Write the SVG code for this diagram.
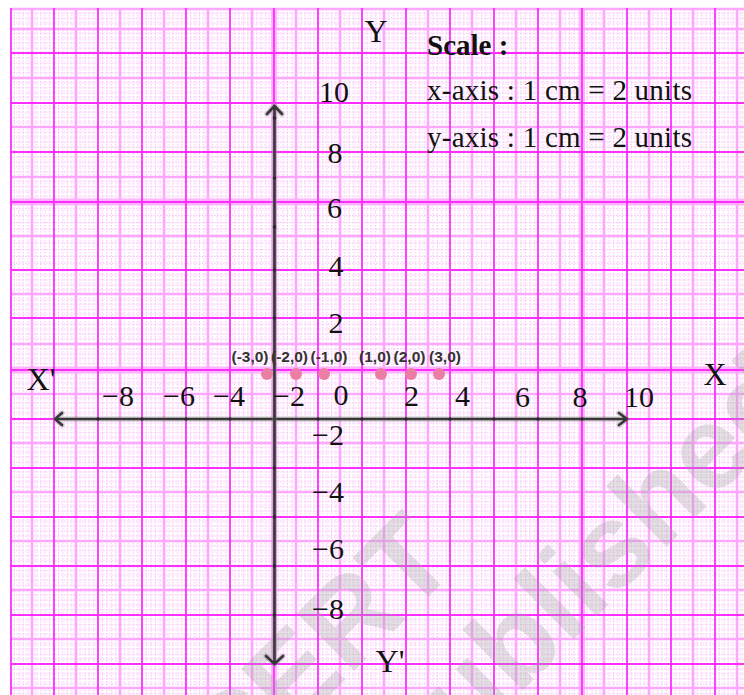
<svg xmlns="http://www.w3.org/2000/svg" width="744" height="695" viewBox="0 0 744 695">
<style>
.minor{stroke:#fbbdfb;stroke-width:1;fill:none;stroke-dasharray:1.6 1.4}
.medium{stroke:#ffa6ff;stroke-width:2.6;fill:none}
.major{stroke:#ff2eff;stroke-width:1.8;fill:none}
.band{stroke:#ffb6ff;fill:none}
.axis{stroke:#383838;stroke-width:2.6;fill:none;stroke-linecap:round;stroke-linejoin:round}
.axisglow{stroke:#8a8a8a;stroke-width:5.5;fill:none;opacity:0.35;stroke-linecap:round}
.tick{fill:#2a2a2a}
.num{font-family:"Liberation Serif","Times New Roman",serif;font-size:30px;fill:#111;text-anchor:middle}
.big{font-family:"Liberation Serif","Times New Roman",serif;font-size:32px;fill:#111;text-anchor:middle}
.scale{font-family:"Liberation Serif","Times New Roman",serif;font-size:29px;fill:#111}
.pt{font-family:"Liberation Sans",Arial,sans-serif;font-size:15.5px;font-weight:bold;fill:#333;text-anchor:middle}
.dot{fill:#ec7ea6}
.wm{font-family:"Liberation Sans",Arial,sans-serif;font-size:118px;font-weight:bold;fill:#a0a0a0;opacity:0.3;text-anchor:end}
</style>
<defs>
<pattern id="vm" patternUnits="userSpaceOnUse" x="10" y="0" width="44.06" height="21">
<path class="minor" d="M4.4 0V21M8.8 0V21M13.2 0V21M17.6 0V21M26.4 0V21M30.8 0V21M35.2 0V21M39.6 0V21"/>
</pattern>
<pattern id="hmA" patternUnits="userSpaceOnUse" x="10" y="3.5" width="21" height="49.5">
<path class="minor" d="M0 4.95H21M0 9.9H21M0 14.85H21M0 19.8H21M0 29.7H21M0 34.65H21M0 39.6H21M0 44.55H21"/>
</pattern>
<pattern id="hmB" patternUnits="userSpaceOnUse" x="10" y="202" width="21" height="68">
<path class="minor" d="M0 6.8H21M0 13.6H21M0 20.4H21M0 27.2H21M0 40.8H21M0 47.6H21M0 54.4H21M0 61.2H21"/>
</pattern>
<pattern id="hmC" patternUnits="userSpaceOnUse" x="10" y="270" width="21" height="49.25">
<path class="minor" d="M0 4.925H21M0 9.85H21M0 14.775H21M0 19.7H21M0 29.55H21M0 34.475H21M0 39.4H21M0 44.325H21"/>
</pattern>
</defs>
<rect x="0" y="0" width="744" height="695" fill="#ffffff"/>
<g id="grid">
<rect x="10" y="8" width="734" height="194" fill="url(#hmA)"/>
<rect x="10" y="202" width="734" height="68" fill="url(#hmB)"/>
<rect x="10" y="270" width="734" height="425" fill="url(#hmC)"/>
<rect x="10" y="8" width="734" height="687" fill="url(#vm)"/>
<path class="band" stroke-width="7" d="M10 370H744M10 202H744"/>
<path class="band" stroke-width="6" d="M582 8V695M274 8V695"/>
<path class="medium" d="M32 8V695M76 8V695M120 8V695M164 8V695M208 8V695M252 8V695M296 8V695M340 8V695M384 8V695M428 8V695M472 8V695M516 8V695M560 8V695M604 8V695M649 8V695M693 8V695M737 8V695"/>
<path class="medium" d="M10 9H744M10 29H744M10 78H744M10 127H744M10 177H744M10 236H744M10 294H744M10 344H744M10 394H744M10 443H744M10 492H744M10 541H744M10 590H744M10 639H744M10 688H744"/>
<path class="major" d="M11 8V695M54 8V695M98 8V695M142 8V695M186 8V695M230 8V695M274 8V695M318 8V695M362 8V695M406 8V695M450 8V695M494 8V695M538 8V695M582 8V695M627 8V695M671 8V695M715 8V695"/>
<path class="major" d="M10 53H744M10 103H744M10 152H744M10 202H744M10 270H744M10 318H744M10 370H744M10 419H744M10 468H744M10 517H744M10 566H744M10 615H744M10 664H744"/>
</g>
<g id="watermark">
<text class="wm" transform="translate(460 565) rotate(-45)">© NCERT</text>
<text class="wm" transform="translate(809 404) rotate(-45)">not to be republished</text>
</g>
<g id="connectors">
<g id="x-axis">
<path class="axisglow" d="M55 419H627M62 413L55 419L62 425M619 413L627 419L619 425"/>
<path class="axis" d="M55 419H627M62 413L55 419L62 425M619 413L627 419L619 425"/>
</g>
<g id="y-axis">
<path class="axisglow" d="M274.5 106V664M267 114L274.5 106L282 114M266 656L274.5 664L283 656"/>
<path class="axis" d="M274.5 106V664M267 114L274.5 106L282 114M266 656L274.5 664L283 656"/>
</g>
<g id="ticks">
<circle class="tick" cx="98" cy="419" r="1.8"/><circle class="tick" cx="142" cy="419" r="1.8"/><circle class="tick" cx="186" cy="419" r="1.8"/><circle class="tick" cx="230" cy="419" r="1.8"/><circle class="tick" cx="318" cy="419" r="1.8"/><circle class="tick" cx="362" cy="419" r="1.8"/><circle class="tick" cx="406" cy="419" r="1.8"/><circle class="tick" cx="450" cy="419" r="1.8"/><circle class="tick" cx="494" cy="419" r="1.8"/><circle class="tick" cx="538" cy="419" r="1.8"/><circle class="tick" cx="582" cy="419" r="1.8"/>
<circle class="tick" cx="274.5" cy="118" r="1.8"/><circle class="tick" cx="274.5" cy="178" r="1.8"/><circle class="tick" cx="274.5" cy="227" r="1.8"/><circle class="tick" cx="274.5" cy="270" r="1.8"/><circle class="tick" cx="274.5" cy="318" r="1.8"/><circle class="tick" cx="274.5" cy="468" r="1.8"/><circle class="tick" cx="274.5" cy="517" r="1.8"/><circle class="tick" cx="274.5" cy="566" r="1.8"/><circle class="tick" cx="274.5" cy="615" r="1.8"/>
</g>
</g>
<g id="axis-labels">
<text class="big" x="376" y="42">Y</text>
<text class="big" x="390" y="672">Y'</text>
<text class="big" x="41" y="390">X'</text>
<text class="big" x="715" y="385">X</text>
</g>
<g id="x-numbers">
<text class="num" x="118" y="406">−8</text>
<text class="num" x="179" y="406">−6</text>
<text class="num" x="229" y="406">−4</text>
<text class="num" x="289" y="406">−2</text>
<text class="num" x="341" y="405">0</text>
<text class="num" x="411.5" y="406">2</text>
<text class="num" x="462.5" y="406">4</text>
<text class="num" x="522.5" y="407">6</text>
<text class="num" x="580" y="407">8</text>
<text class="num" x="639" y="407">10</text>
</g>
<g id="y-numbers">
<text class="num" x="334" y="102">10</text>
<text class="num" x="335" y="163">8</text>
<text class="num" x="334.5" y="218">6</text>
<text class="num" x="336" y="276">4</text>
<text class="num" x="336" y="333">2</text>
<text class="num" x="328" y="445">−2</text>
<text class="num" x="328" y="502">−4</text>
<text class="num" x="328" y="559">−6</text>
<text class="num" x="328" y="619">−8</text>
</g>
<g id="scale">
<text class="scale" x="427" y="55" font-weight="bold" font-size="31px">Scale :</text>
<text class="scale" x="427" y="100" textLength="265" lengthAdjust="spacing">x-axis : 1 cm = 2 units</text>
<text class="scale" x="427" y="147" textLength="265" lengthAdjust="spacing">y-axis : 1 cm = 2 units</text>
</g>
<g id="points">
<g id="p-3"><circle class="dot" cx="267" cy="374" r="6"/><text class="pt" x="250" y="362">(-3,0)</text></g>
<g id="p-2"><circle class="dot" cx="296" cy="374" r="6"/><text class="pt" x="289.5" y="362">(-2,0)</text></g>
<g id="p-1"><circle class="dot" cx="324" cy="374" r="6"/><text class="pt" x="329" y="362">(-1,0)</text></g>
<g id="p1"><circle class="dot" cx="381" cy="374" r="6"/><text class="pt" x="375" y="362">(1,0)</text></g>
<g id="p2"><circle class="dot" cx="411" cy="374" r="6"/><text class="pt" x="409.5" y="362">(2,0)</text></g>
<g id="p3"><circle class="dot" cx="439" cy="374" r="6"/><text class="pt" x="445" y="362">(3,0)</text></g>
</g>
</svg>
